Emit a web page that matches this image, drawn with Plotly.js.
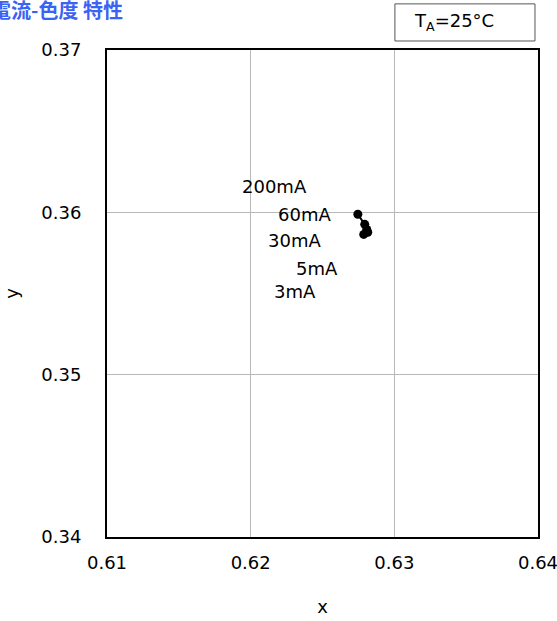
<!DOCTYPE html>
<html>
<head>
<meta charset="utf-8">
<script src="https://cdn.plot.ly/plotly-3.0.1.min.js"></script>
<style>html,body{margin:0;padding:0;background:#fff;}#chart{width:557px;height:621px;}</style>
</head>
<body>
<div id="chart"></div>
<script>
// Data
var currents = ["200mA", "60mA", "30mA", "5mA", "3mA"];
var xValues = [0.62746, 0.62794, 0.62808, 0.62815, 0.62787];
var yValues = [0.35988, 0.35926, 0.35895, 0.35877, 0.35864];
var xTicks = [0.61, 0.62, 0.63, 0.64];
var yTicks = [0.34, 0.35, 0.36, 0.37];
// label positions (layout only)
var labelX = [0.62167, 0.62376, 0.62307, 0.62460, 0.62307];
var labelY = [0.36160, 0.35988, 0.35827, 0.35654, 0.35512];

var font = "DejaVu Sans, Verdana, sans-serif";

var trace = {
  x: xValues, y: yValues, mode: "lines+markers", type: "scatter",
  line: {color: "#000", width: 2},
  marker: {color: "#000", size: 9},
  hoverinfo: "none", showlegend: false
};

var annotations = currents.map(function(c, i) {
  return {x: labelX[i], y: labelY[i], xref: "x", yref: "y", text: c, showarrow: false,
          font: {family: font, size: 18, color: "#000"}, xanchor: "center", yanchor: "middle"};
});
annotations.push({
  xref: "paper", yref: "paper", x: -0.273, y: 1.084, xanchor: "left", yanchor: "middle",
  text: "<b>電流-色度 特性</b>", showarrow: false,
  font: {family: "Noto Sans CJK JP, sans-serif", size: 20, color: "#3a62f5"}
});
annotations.push({
  xref: "paper", yref: "paper", x: 0.708, y: 1.058, xanchor: "left", yanchor: "middle",
  text: "T<sub>A</sub>=25°C", showarrow: false,
  font: {family: font, size: 18, color: "#000"}
});

var layout = {
  width: 557, height: 621,
  margin: {l: 107, r: 19, t: 50, b: 84},
  paper_bgcolor: "#fff", plot_bgcolor: "#fff",
  xaxis: {
    range: [0.61, 0.64], tickvals: xTicks, ticktext: xTicks.map(function(v){return v.toFixed(2);}),
    showgrid: true, gridcolor: "#b8b8b8", gridwidth: 1, zeroline: false,
    showline: true, linecolor: "#000", linewidth: 2, mirror: true,
    ticks: "", ticklabelstandoff: 8, ticklabeloverflow: "allow",
    tickfont: {family: font, size: 18, color: "#000"},
    title: {text: "x", font: {family: font, size: 18, color: "#000"}, standoff: 29}
  },
  yaxis: {
    range: [0.34, 0.37], tickvals: yTicks, ticktext: yTicks.map(function(v){return v.toFixed(2);}),
    showgrid: true, gridcolor: "#b8b8b8", gridwidth: 1, zeroline: false,
    showline: true, linecolor: "#000", linewidth: 2, mirror: true,
    ticks: "", ticklabelstandoff: 20, ticklabeloverflow: "allow",
    tickfont: {family: font, size: 18, color: "#000"},
    title: {text: "y", font: {family: font, size: 18, color: "#000"}, standoff: 18}
  },
  shapes: [{
    type: "rect", xref: "paper", yref: "paper",
    x0: 0.668, x1: 0.993, y0: 1.0185, y1: 1.0947,
    line: {color: "#555", width: 1}, fillcolor: "rgba(0,0,0,0)"
  }],
  annotations: annotations
};

Plotly.newPlot("chart", [trace], layout, {displayModeBar: false, staticPlot: true});
</script>
</body>
</html>
